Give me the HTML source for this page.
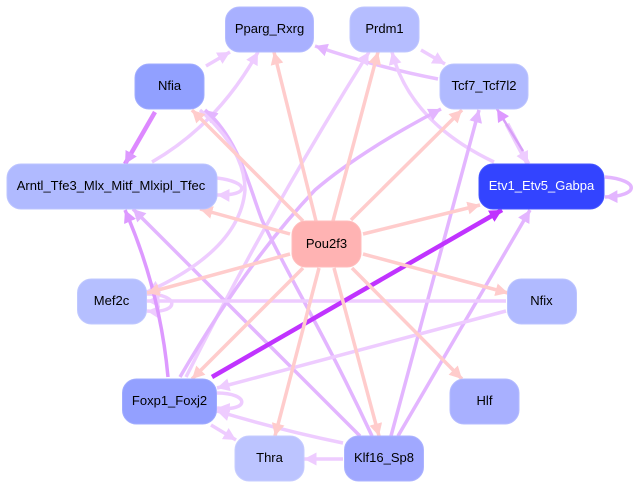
<!DOCTYPE html>
<html>
<head>
<meta charset="utf-8">
<style>
html,body{margin:0;padding:0;background:#fff;}
svg{display:block;}
text{font-family:"Liberation Sans",sans-serif;font-size:13px;text-anchor:middle;fill:#000;}
path.e{fill:none;stroke-width:3.5;}
</style>
</head>
<body>
<svg width="635" height="489" viewBox="0 0 635 489" xmlns="http://www.w3.org/2000/svg">
<defs>
<marker id="p" markerUnits="userSpaceOnUse" markerWidth="14" markerHeight="15" refX="12.5" refY="7" orient="auto"><path d="M0,0.5L12.5,7L0,13.5z" fill="#ffcccc"/></marker>
<marker id="l" markerUnits="userSpaceOnUse" markerWidth="14" markerHeight="15" refX="12.5" refY="7" orient="auto"><path d="M0,0.5L12.5,7L0,13.5z" fill="#eeccff"/></marker>
<marker id="m" markerUnits="userSpaceOnUse" markerWidth="14" markerHeight="15" refX="12.5" refY="7" orient="auto"><path d="M0,0.5L12.5,7L0,13.5z" fill="#e3b5ff"/></marker>
<marker id="d" markerUnits="userSpaceOnUse" markerWidth="14" markerHeight="15" refX="12.5" refY="7" orient="auto"><path d="M0,0.5L12.5,7L0,13.5z" fill="#dd99ff"/></marker>
<marker id="s" markerUnits="userSpaceOnUse" markerWidth="14" markerHeight="15" refX="12.5" refY="7" orient="auto"><path d="M0,0.5L12.5,7L0,13.5z" fill="#c033ff"/></marker>
</defs>

<!-- light / mid purple edges -->
<g>
<path class="e" stroke="#eeccff" marker-end="url(#l)" d="M206,66L230,52"/>
<path class="e" stroke="#eeccff" marker-end="url(#l)" d="M152,162Q218,124 258,52"/>
<path class="e" stroke="#eeccff" marker-end="url(#l)" d="M421,50L445,64"/>
<path class="e" stroke="#e8c0ff" marker-end="url(#m)" d="M438,79Q380,68 315,46"/>
<path class="e" stroke="#eeccff" marker-end="url(#l)" d="M494,162Q410,122 392,52"/>
<path class="e" stroke="#eeccff" marker-end="url(#l)" d="M186,377Q270,210 369,52"/>
<path class="e" stroke="#e3b5ff" marker-end="url(#m)" d="M180,377C212,322 258,250 315,190C350,160 400,130 441,109"/>
<path class="e" stroke="#e3b5ff" marker-end="url(#m)" d="M391,436L479,110"/>
<path class="e" stroke="#e3b5ff" marker-end="url(#m)" d="M398,436L530,210"/>
<path class="e" stroke="#e3b5ff" marker-end="url(#m)" d="M360,436L133,209"/>
<path class="e" stroke="#e3b5ff" marker-end="url(#m)" d="M372,436C325,335 285,270 262,220C250,190 240,140 205,110"/>
<path class="e" stroke="#eeccff" marker-end="url(#l)" d="M200,110Q245,150 245,190Q240,250 147,292"/>
<path class="e" stroke="#eeccff" marker-end="url(#l)" d="M506,301L147,301"/>
<path class="e" stroke="#eeccff" marker-end="url(#l)" d="M506,311L217,388"/>
<path class="e" stroke="#eeccff" marker-end="url(#l)" d="M343,443Q280,430 217,411"/>
<path class="e" stroke="#eeccff" marker-end="url(#l)" d="M343,459L304,459"/>
<path class="e" stroke="#eeccff" marker-end="url(#l)" d="M211,425L236,440"/>
<path class="e" stroke="#eeccff" style="stroke-width:5" marker-end="url(#l)" d="M507,124L528,164"/>
<path class="e" stroke="#d8a0f8" style="stroke-width:2.5" marker-end="url(#d)" d="M523,151L497,109"/>
<path class="e" stroke="#e3b5ff" marker-end="url(#m)" d="M605,177C640,180 640,196 605,197"/>
<path class="e" stroke="#eeccff" marker-end="url(#l)" d="M217,178C250,182 250,196 217,195"/>
<path class="e" stroke="#eeccff" marker-end="url(#l)" d="M147,294C180,294 180,314 147,311"/>
<path class="e" stroke="#eeccff" marker-end="url(#l)" d="M217,393C250,393 250,412 217,408"/>
<path class="e" stroke="#dd99ff" marker-end="url(#d)" d="M168,377Q160,290 125,210"/>
<path class="e" stroke="#dd88ff" style="stroke-width:4.5" marker-end="url(#d)" d="M155,112L125,164"/>
<path class="e" stroke="#c033ff" style="stroke-width:4.5" marker-end="url(#s)" d="M212,377L502,210"/>
</g>

<!-- pink edges -->
<g stroke="#ffcccc">
<path class="e" marker-end="url(#p)" d="M303,221L192,110"/>
<path class="e" marker-end="url(#p)" d="M316,221L274,52"/>
<path class="e" marker-end="url(#p)" d="M333,221L378,52"/>
<path class="e" marker-end="url(#p)" d="M351,220L462,110"/>
<path class="e" marker-end="url(#p)" d="M363,234L480,205"/>
<path class="e" marker-end="url(#p)" d="M363,254L508,293"/>
<path class="e" marker-end="url(#p)" d="M352,268L462,379"/>
<path class="e" marker-end="url(#p)" d="M334,268L379,436"/>
<path class="e" marker-end="url(#p)" d="M319,268L275,436"/>
<path class="e" marker-end="url(#p)" d="M303,268L192,379"/>
<path class="e" marker-end="url(#p)" d="M290,254L147,293"/>
<path class="e" marker-end="url(#p)" d="M290,234L200,209"/>
</g>

<!-- nodes -->
<g stroke-width="1">
<rect x="225.5" y="7" width="88" height="45" rx="14" fill="#a8b0ff" stroke="#b4bbff"/>
<rect x="350" y="7" width="69" height="45" rx="14" fill="#b5bdff" stroke="#bfc6ff"/>
<rect x="135" y="64" width="69" height="45" rx="14" fill="#91a0ff" stroke="#a0acff"/>
<rect x="440" y="64" width="88" height="45" rx="14" fill="#b0baff" stroke="#bcc4ff"/>
<rect x="7" y="164" width="210" height="45" rx="14" fill="#b0baff" stroke="#bcc4ff"/>
<rect x="479" y="164" width="125" height="45" rx="14" fill="#3344ff" stroke="#4455ff"/>
<rect x="292" y="221" width="69" height="46" rx="14" fill="#ffb3b3" stroke="#ffbcbc"/>
<rect x="77.5" y="279" width="69" height="45" rx="14" fill="#b5bfff" stroke="#bfc8ff"/>
<rect x="507.5" y="279" width="69" height="45" rx="14" fill="#b0baff" stroke="#bcc4ff"/>
<rect x="122.5" y="379" width="94" height="45" rx="14" fill="#93a0ff" stroke="#a0acff"/>
<rect x="450" y="379" width="69" height="45" rx="14" fill="#a8b0ff" stroke="#b4bbff"/>
<rect x="235" y="436" width="69" height="45" rx="14" fill="#bcc4ff" stroke="#c6ccff"/>
<rect x="344.5" y="436" width="79" height="45" rx="14" fill="#a0a8ff" stroke="#acb3ff"/>
</g>

<text x="269.5" y="33">Pparg_Rxrg</text>
<text x="384.5" y="33">Prdm1</text>
<text x="169.5" y="90">Nfia</text>
<text x="484" y="90">Tcf7_Tcf7l2</text>
<text x="111" y="190">Arntl_Tfe3_Mlx_Mitf_Mlxipl_Tfec</text>
<text x="541.5" y="190" style="fill:#fff">Etv1_Etv5_Gabpa</text>
<text x="326.5" y="248">Pou2f3</text>
<text x="111.5" y="305">Mef2c</text>
<text x="541.5" y="305">Nfix</text>
<text x="169.5" y="405">Foxp1_Foxj2</text>
<text x="484.5" y="405">Hlf</text>
<text x="269.5" y="462">Thra</text>
<text x="384" y="462">Klf16_Sp8</text>
</svg>
</body>
</html>
